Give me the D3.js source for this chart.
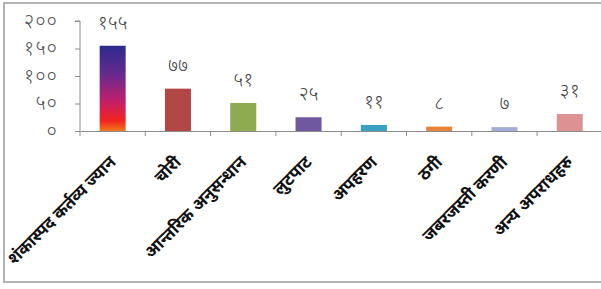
<!DOCTYPE html>
<html>
<head>
<meta charset="utf-8">
<script src="https://cdn.jsdelivr.net/npm/d3@7"></script>
<style>
  body { margin: 0; background: #fff; }
  svg text { font-family: "Noto Sans Devanagari", "Noto Sans", "Lohit Devanagari", sans-serif; }
</style>
</head>
<body>
<svg id="g1" width="601" height="289"></svg>
<script>
const categories = ["शंकास्पद कर्तव्य ज्यान", "चोरी", "आन्तरिक अनुसन्धान", "लुटपाट", "अपहरण", "ठगी", "जबरजस्ती करणी", "अन्य अपराधहरु"];
const values = [155, 77, 51, 25, 11, 8, 7, 31];
const colors = ["url(#grad1)", "#b24846", "#8eac4f", "#6f58a0", "#3aa0bf", "#e8843a", "#a2acd6", "#dc9193"];
const yTicks = [0, 50, 100, 150, 200];

const devDigits = "०१२३४५६७८९";
const toDev = n => String(n).replace(/\d/g, d => devDigits[d]);

const svg = d3.select("#g1");

// chart frame
svg.append("rect")
    .attr("x", 4).attr("y", 3)
    .attr("width", 620).attr("height", 279)
    .attr("fill", "none")
    .attr("stroke", "#b4b4b4")
    .attr("stroke-width", 2);

const defs = svg.append("defs");
const grad = defs.append("linearGradient")
    .attr("id", "grad1")
    .attr("x1", 0).attr("y1", 0).attr("x2", 0).attr("y2", 1);
[["0%", "#2c2a8c"], ["35%", "#6a2a8e"], ["65%", "#c21f6a"], ["88%", "#f2231f"], ["100%", "#f07a1c"]]
    .forEach(s => grad.append("stop").attr("offset", s[0]).attr("stop-color", s[1]));

const x0 = 80, x1 = 80 + 8 * 65.3;
const yTop = 21, yBase = 131;

const xBand = d3.scaleBand().domain(categories).range([x0, x1]);
const yScale = d3.scaleLinear().domain([0, 200]).range([yBase, yTop]);

// y axis
const yAxis = svg.append("g")
    .attr("transform", "translate(" + x0 + ",0)")
    .call(d3.axisLeft(yScale).tickValues(yTicks).tickSize(5).tickPadding(17).tickFormat(toDev));
yAxis.select(".domain").attr("stroke", "#8c8c8c").attr("d", "M-5," + yTop + "H0V" + yBase);
yAxis.selectAll(".tick line").attr("stroke", "#8c8c8c");
yAxis.selectAll(".tick text")
    .attr("font-size", 20)
    .attr("fill", "#555")
    .attr("font-weight", 300)
    .attr("letter-spacing", 1);

// bars
svg.selectAll(".bar").data(values).enter().append("rect")
    .attr("class", "bar")
    .attr("x", (d, i) => xBand(categories[i]) + xBand.bandwidth() / 2 - 13)
    .attr("y", d => yScale(d))
    .attr("width", 26)
    .attr("height", d => yBase - yScale(d))
    .attr("fill", (d, i) => colors[i]);

// value labels
svg.selectAll(".val").data(values).enter().append("text")
    .attr("class", "val")
    .attr("x", (d, i) => xBand(categories[i]) + xBand.bandwidth() / 2)
    .attr("y", d => yScale(d) - 17)
    .attr("text-anchor", "middle")
    .attr("font-size", 19)
    .attr("fill", "#444")
    .attr("font-weight", 300)
    .text(d => toDev(d));

// x axis
const xAxis = svg.append("g")
    .attr("transform", "translate(0," + yBase + ")")
    .call(d3.axisBottom(xBand).tickSize(0).tickFormat(""));
xAxis.select(".domain").attr("stroke", "#8c8c8c");
xAxis.selectAll(".sep").data(d3.range(categories.length + 1)).enter().append("line")
    .attr("x1", i => x0 + i * xBand.step()).attr("x2", i => x0 + i * xBand.step())
    .attr("y1", 0).attr("y2", 5)
    .attr("stroke", "#8c8c8c");

svg.selectAll(".cat").data(categories).enter().append("text")
    .attr("class", "cat")
    .attr("transform", d => "translate(" + (xBand(d) + xBand.bandwidth() / 2) + "," + (yBase + 28) + ") rotate(-45)")
    .attr("text-anchor", "end")
    .attr("dy", "0.35em")
    .attr("font-size", 17)
    .attr("font-weight", "bold")
    .attr("fill", "#111")
    .text(d => d);
</script>
</body>
</html>
